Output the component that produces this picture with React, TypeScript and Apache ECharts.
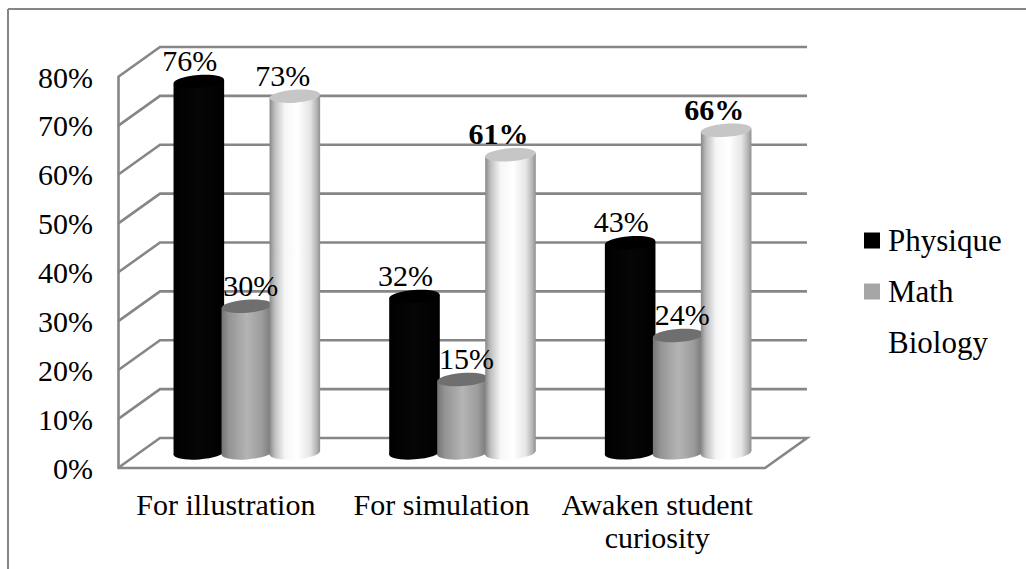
import React, { useEffect, useRef } from "react";
import * as echarts from "echarts";

const categories = ["For illustration", "For simulation", "Awaken student\ncuriosity"];
const physique = [76, 32, 43];
const math = [30, 15, 24];
const biology = [73, 61, 66];
const biologyBold = [false, true, true];
const wallTicks = [0, 10, 20, 30, 40, 50, 60, 70, 80];

const FONT = "'Liberation Serif', 'Times New Roman', serif";
const FS = 30;
const LEGEND_FS = 31;
const LINE = "#868686";
const DEPTH_X = 42;
const DEPTH_Y = -30;
const RX = 25.3;
const RY = 6.5;
const TILT = 0.075;
const STEP = 48;

const grad = (stops: [number, string][]) => ({
  type: "linear", x: 0, y: 0, x2: 1, y2: 0,
  colorStops: stops.map(([offset, color]) => ({ offset, color })),
});

const looks = [
  { name: "Physique", values: physique, swatch: "#000000", top: "#000000", nudge: -9,
    body: grad([[0, "#000"], [0.5, "#060606"], [1, "#000"]]) },
  { name: "Math", values: math, swatch: "#a6a6a6", top: "#6f6f6f", nudge: 4,
    body: grad([[0, "#747474"], [0.15, "#949494"], [0.5, "#b4b4b4"], [0.8, "#9c9c9c"], [1, "#767676"]]) },
  { name: "Biology", values: biology, swatch: "#ffffff", top: "#c6c6c6", nudge: -12,
    body: grad([[0, "#888"], [0.1, "#bdbdbd"], [0.3, "#f6f6f6"], [0.55, "#fff"], [0.8, "#e6e6e6"], [0.93, "#b5b5b5"], [1, "#909090"]]) },
];

function cylinderSeries(look: (typeof looks)[number], si: number) {
  return {
    type: "custom",
    name: look.name,
    coordinateSystem: "cartesian2d",
    clip: false,
    z: 3,
    itemStyle: { color: look.swatch },
    data: look.values.map((v, i) => [i, v]),
    encode: { x: 0, y: 1 },
    renderItem: (_p: any, api: any) => {
      const [cx0, topY0] = api.coord([api.value(0), api.value(1)]);
      const [, botY0] = api.coord([api.value(0), 0]);
      const cx = cx0 + DEPTH_X / 2 + (si - 1) * STEP;
      const topY = topY0 + DEPTH_Y / 2;
      const botY = botY0 + DEPTH_Y / 2;
      const dy = RX * Math.sin(TILT);
      return {
        type: "group",
        children: [
          {
            type: "ellipse", shape: { cx, cy: botY, rx: RX, ry: RY },
            rotation: TILT, originX: cx, originY: botY,
            style: { fill: look.body },
          },
          {
            type: "polygon",
            shape: { points: [[cx - RX, topY + dy], [cx + RX, topY - dy], [cx + RX, botY - dy], [cx - RX, botY + dy]] },
            style: { fill: look.body },
          },
          {
            type: "ellipse", shape: { cx, cy: topY, rx: RX, ry: RY },
            rotation: TILT, originX: cx, originY: topY,
            style: { fill: look.top },
          },
        ],
      };
    },
  };
}

function labelSeries(look: (typeof looks)[number], si: number) {
  return {
    type: "custom",
    name: look.name + " labels",
    coordinateSystem: "cartesian2d",
    clip: false,
    z: 5,
    silent: true,
    data: look.values.map((v, i) => [i, v]),
    encode: { x: 0, y: 1 },
    renderItem: (_p: any, api: any) => {
      const i = api.value(0);
      const v = api.value(1);
      const [cx0, topY0] = api.coord([i, v]);
      const bold = si === 2 && biologyBold[i];
      return {
        type: "text",
        x: cx0 + DEPTH_X / 2 + (si - 1) * STEP + look.nudge,
        y: topY0 + DEPTH_Y / 2 - 21,
        style: {
          text: `${v}%`, fill: "#000", font: `${bold ? "bold " : ""}${FS}px ${FONT}`,
          align: "center", verticalAlign: "middle",
        },
      };
    },
  };
}

const wallSeries = {
  type: "custom",
  name: "walls",
  coordinateSystem: "cartesian2d",
  clip: false,
  silent: true,
  z: 1,
  data: wallTicks.map((t) => [0, t]),
  encode: { x: 0, y: 1 },
  renderItem: (p: any, api: any) => {
    const sys = p.coordSys;
    const left = sys.x;
    const right = sys.x + sys.width;
    const y = api.coord([0, api.value(1)])[1];
    const pts: number[][] = [[left, y], [left + DEPTH_X, y + DEPTH_Y], [right + DEPTH_X, y + DEPTH_Y]];
    if (api.value(1) === 0) pts.push([right, y], [left, y]);
    return {
      type: "polyline",
      shape: { points: pts },
      style: { stroke: LINE, lineWidth: 2.6, fill: "none" },
    };
  },
};

export default function App() {
  const ref = useRef<HTMLDivElement>(null);
  useEffect(() => {
    const chart = echarts.init(ref.current!, null, { renderer: "svg" });
    chart.setOption({
      animation: false,
      backgroundColor: "#fff",
      grid: { left: 118, top: 77, width: 647, height: 391, containLabel: false },
      xAxis: {
        type: "category",
        data: categories,
        axisLine: { show: false },
        axisTick: { show: false },
        axisLabel: { color: "#000", fontFamily: FONT, fontSize: FS, lineHeight: 33, margin: 20, interval: 0 },
      },
      yAxis: {
        type: "value",
        min: 0,
        max: 80,
        interval: 10,
        axisLine: { show: true, lineStyle: { color: LINE, width: 2.6 } },
        axisTick: { show: false },
        splitLine: { show: false },
        axisLabel: { color: "#000", fontFamily: FONT, fontSize: FS, margin: 25, formatter: "{value}%" },
      },
      legend: {
        left: 859,
        top: 220,
        orient: "vertical",
        itemWidth: 16,
        itemHeight: 16,
        itemGap: 20,
        selectedMode: false,
        textStyle: { color: "#000", fontFamily: FONT, fontSize: LEGEND_FS, padding: [0, 0, 0, 3] },
        data: looks.map((l) => ({ name: l.name, icon: "rect", itemStyle: { color: l.swatch } })),
      },
      graphic: [
        { type: "line", shape: { x1: 8, y1: 9, x2: 1026, y2: 9 }, style: { stroke: LINE, lineWidth: 2 } },
        { type: "line", shape: { x1: 8, y1: 9, x2: 8, y2: 569 }, style: { stroke: LINE, lineWidth: 2 } },
      ],
      series: [wallSeries, ...looks.map(cylinderSeries), ...looks.map(labelSeries)],
    });
    return () => chart.dispose();
  }, []);
  return <div ref={ref} style={{ position: "fixed", left: 0, top: 0, width: 1026, height: 569 }} />;
}
